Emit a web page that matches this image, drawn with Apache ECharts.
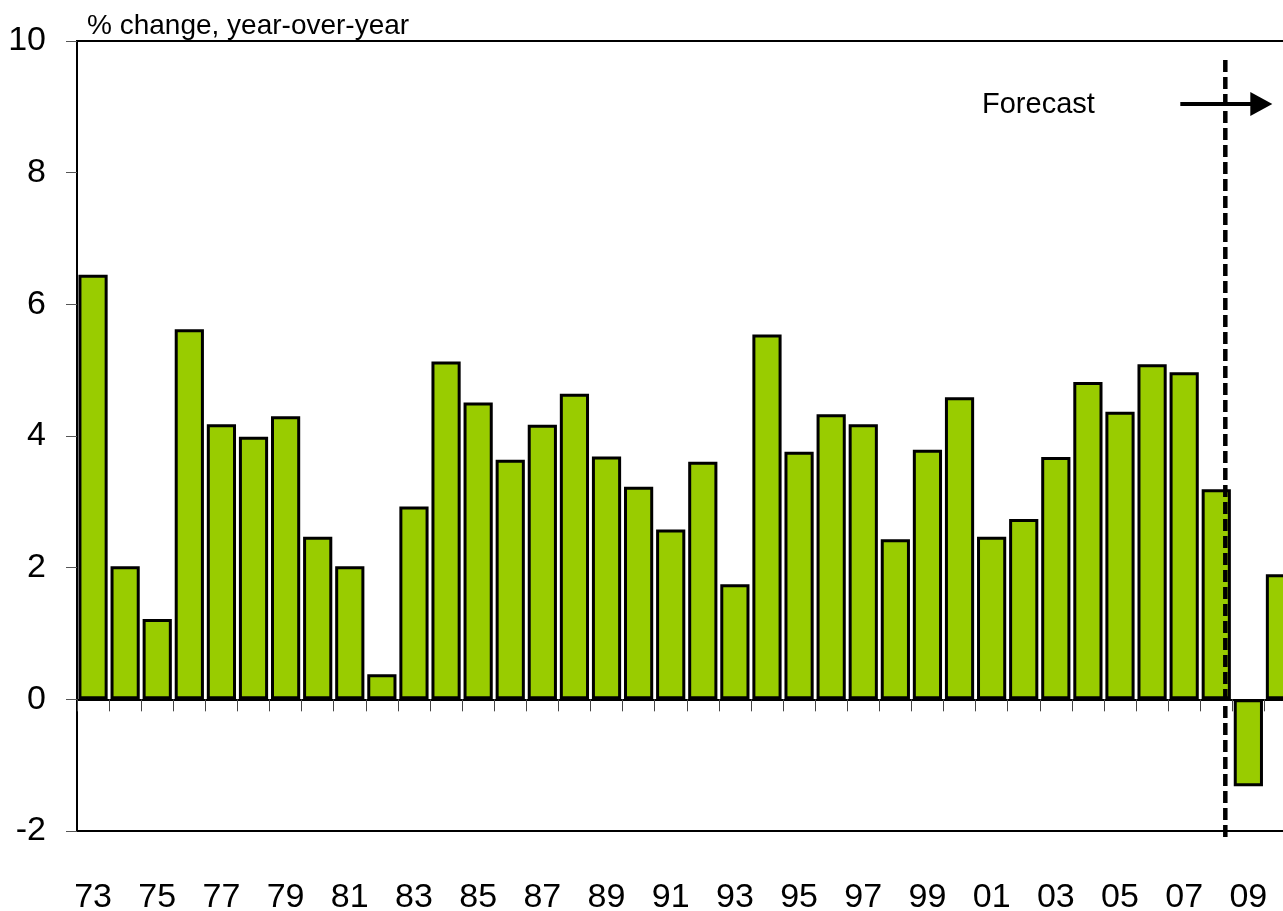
<!DOCTYPE html>
<html>
<head>
<meta charset="utf-8">
<script src="https://cdn.jsdelivr.net/npm/echarts@6/dist/echarts.min.js"></script>
<style>
  html, body { margin: 0; padding: 0; background: #fff; }
  #chart { width: 1283px; height: 911px; }
</style>
</head>
<body>
<div id="chart"></div>
<script>
const years = ['73', '74', '75', '76', '77', '78', '79', '80', '81', '82',
  '83', '84', '85', '86', '87', '88', '89', '90', '91', '92',
  '93', '94', '95', '96', '97', '98', '99', '00', '01', '02',
  '03', '04', '05', '06', '07', '08', '09', '10']
const growth = [6.45, 2.02, 1.22, 5.62, 4.18, 3.99, 4.30, 2.47, 2.02, 0.38,
  2.93, 5.13, 4.51, 3.64, 4.17, 4.64, 3.69, 3.23, 2.58, 3.61,
  1.75, 5.54, 3.76, 4.33, 4.18, 2.43, 3.79, 4.59, 2.47, 2.74,
  3.68, 4.82, 4.37, 5.09, 4.97, 3.19, -1.32, 1.90]
const yTicks = [-2, 0, 2, 4, 6, 8, 10]
const forecastFrom = '09'

const font = 'Liberation Sans'
const chart = echarts.init(document.getElementById('chart'))

const option = {
  animation: false,
  backgroundColor: '#fff',
  title: {
    text: '% change, year-over-year',
    left: 82,
    top: 7,
    textStyle: { fontFamily: font, fontSize: 28, fontWeight: 'normal', color: '#000' }
  },
  grid: {
    left: 77,
    top: 41,
    width: 1219.5,
    height: 790,
    outerBoundsMode: 'none',
    containLabel: false,
    show: true,
    borderColor: '#000',
    borderWidth: 2
  },
  xAxis: [{
    type: 'category',
    data: years,
    position: 'bottom',
    axisLine: { onZero: true, lineStyle: { color: '#000', width: 2 } },
    axisTick: { show: true, interval: 0, length: 12, lineStyle: { color: '#444', width: 1 } },
    axisLabel: { show: false }
  }, {
    type: 'category',
    data: years,
    position: 'bottom',
    axisLine: { show: false },
    axisTick: { show: false },
    axisLabel: {
      interval: 1,
      margin: 50,
      fontFamily: font,
      fontSize: 34,
      color: '#000'
    }
  }],
  yAxis: {
    type: 'value',
    min: yTicks[0],
    max: yTicks[yTicks.length - 1],
    interval: 2,
    axisLine: { show: true, lineStyle: { color: '#000', width: 2 } },
    axisTick: { show: true, length: 11, lineStyle: { color: '#555', width: 1 } },
    splitLine: { show: false },
    axisLabel: { margin: 31, fontFamily: font, fontSize: 34, color: '#000' }
  },
  series: [{
    type: 'bar',
    data: growth,
    xAxisIndex: 0,
    barCategoryGap: '9%',
    itemStyle: { color: '#99cc00', borderColor: '#000', borderWidth: 3 }
  }]
}
chart.setOption(option)

// forecast divider sits just left of the 08/09 boundary
const x08 = chart.convertToPixel({ xAxisIndex: 0 }, '08')
const x09 = chart.convertToPixel({ xAxisIndex: 0 }, forecastFrom)
const bx = (x08 + x09) / 2 - 7
chart.setOption({
  graphic: [
    {
      type: 'line',
      shape: { x1: bx, y1: 60, x2: bx, y2: 837 },
      style: { stroke: '#000', lineWidth: 4.5, lineDash: [12, 5] },
      z: 100
    },
    {
      type: 'line',
      shape: { x1: bx - 45, y1: 104, x2: bx + 28, y2: 104 },
      style: { stroke: '#000', lineWidth: 4 },
      z: 100
    },
    {
      type: 'polygon',
      shape: { points: [[bx + 25, 92], [bx + 47, 104], [bx + 25, 116]] },
      style: { fill: '#000' },
      z: 100
    },
    {
      type: 'text',
      x: 982,
      y: 105,
      style: {
        text: 'Forecast',
        fontFamily: font,
        fontSize: 29,
        fill: '#000',
        verticalAlign: 'middle'
      },
      z: 100
    }
  ]
})
</script>
</body>
</html>
